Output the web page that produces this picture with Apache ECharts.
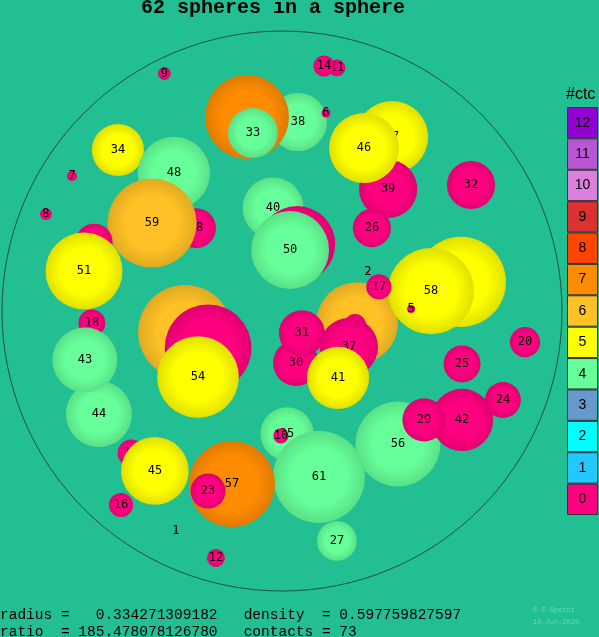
<!DOCTYPE html>
<html>
<head>
<meta charset="utf-8">
<script src="https://cdn.jsdelivr.net/npm/echarts@6/dist/echarts.min.js"></script>
<style>
html,body{margin:0;padding:0;background:#21bf91;}
#chart{width:599px;height:637px;}
</style>
</head>
<body>
<div id="chart"></div>
<script>
// ---- data (drawing order = back to front) ----
const labels = [38,55,33,6,47,39,46,11,14,9,34,48,28,59,22,51,7,8,40,49,50,32,26,60,53,58,17,2,5,15,30,31,37,41,62,52,54,18,44,43,20,25,56,42,24,29,35,10,61,19,45,57,23,16,1,12,27];
const xs = [0.057,-0.125,-0.104,0.157,0.393,0.379,0.293,0.196,0.150,-0.420,-0.586,-0.386,-0.307,-0.464,-0.671,-0.707,-0.750,-0.843,-0.032,0.054,0.029,0.675,0.321,0.639,0.268,0.532,0.346,0.307,0.461,0.261,0.050,0.071,0.239,0.200,-0.346,-0.264,-0.300,-0.679,-0.654,-0.704,0.868,0.643,0.414,0.643,0.789,0.507,0.018,-0.004,0.132,-0.539,-0.454,-0.179,-0.264,-0.575,-0.379,-0.236,0.196];
const ys = [0.675,0.693,0.636,0.707,0.621,0.436,0.582,0.868,0.875,0.848,0.575,0.493,0.296,0.314,0.246,0.143,0.482,0.346,0.368,0.239,0.218,0.450,0.296,0.104,-0.043,0.071,0.086,0.139,0.007,-0.050,-0.186,-0.079,-0.129,-0.239,-0.075,-0.132,-0.236,-0.043,-0.368,-0.175,-0.111,-0.189,-0.475,-0.389,-0.318,-0.389,-0.439,-0.446,-0.593,-0.507,-0.571,-0.618,-0.643,-0.693,-0.786,-0.882,-0.821];
const rs = [0.104,0.150,0.089,0.016,0.129,0.104,0.125,0.030,0.0375,0.023,0.093,0.129,0.071,0.159,0.066,0.1375,0.018,0.021,0.109,0.136,0.139,0.086,0.068,0.161,0.146,0.154,0.045,0.004,0.014,0.039,0.082,0.082,0.104,0.111,0.168,0.155,0.146,0.048,0.118,0.116,0.054,0.066,0.152,0.111,0.064,0.077,0.095,0.027,0.164,0.048,0.121,0.154,0.0625,0.043,0.004,0.032,0.071];
const ctcs = [4,7,4,0,5,0,5,0,0,0,5,4,0,6,0,5,0,0,4,0,4,0,0,5,6,5,0,0,0,0,0,0,0,5,6,0,5,0,4,4,0,0,4,0,0,0,4,0,4,0,5,7,0,0,0,0,4];

// legend
const ctcLevels = ['0','1','2','3','4','5','6','7','8','9','10','11','12'];
const ctcColors = ['#ff0080','#22c8ff','#00ffff','#6699cc','#66ff99','#ffff00','#ffc125','#ff8c00','#ff4500','#dd3030','#dd80dd','#ba55d3','#9400d3'];

const titleText = '62 spheres in a sphere';
const statLine1 = 'radius =   0.334271309182   density  = 0.597759827597';
const statLine2 = 'ratio  = 185.478078126780   contacts = 73';

function shade(hex, f){
  const n = parseInt(hex.slice(1),16);
  let r=(n>>16)&255, g=(n>>8)&255, b=n&255;
  r=Math.round(r*f); g=Math.round(g*f); b=Math.round(b*f);
  return 'rgb('+r+','+g+','+b+')';
}

const sphereData = labels.map((l,i)=>[xs[i],ys[i],rs[i],ctcs[i],l]);

const chart = echarts.init(document.getElementById('chart'), null, {renderer:'canvas'});
chart.setOption({
  animation:false,
  backgroundColor:'#21bf91',
  grid:[
    {left:2, top:31, width:560, height:560},
    {left:567, top:107, width:31, height:408}
  ],
  xAxis:[
    {type:'value', min:-1, max:1, show:false, gridIndex:0},
    {type:'value', min:0, max:1, show:false, gridIndex:1}
  ],
  yAxis:[
    {type:'value', min:-1, max:1, show:false, gridIndex:0},
    {type:'category', data:ctcLevels, show:false, gridIndex:1}
  ],
  graphic:[
    {type:'text', left:141, top:-2, style:{text:titleText, font:'bold 20px "Liberation Mono"', fill:'#000'}},
    {type:'text', left:566, top:87, style:{text:'#ctc', font:'16px "Liberation Sans"', fill:'#000'}},
    {type:'text', left:0, top:608, style:{text:statLine1, font:'14.5px "Liberation Mono"', fill:'#000'}},
    {type:'text', left:0, top:625, style:{text:statLine2, font:'14.5px "Liberation Mono"', fill:'#000'}},
    {type:'text', left:533, top:604, style:{text:'© E.Specht\n18-Jun-2020', font:'7px "Liberation Mono"', fill:'#6fd6b2', lineHeight:12}}
  ],
  series:[
    {
      type:'custom', coordinateSystem:'cartesian2d', xAxisIndex:0, yAxisIndex:0, z:1,
      data:[[0,0,1]],
      renderItem:function(params, api){
        const c = api.coord([api.value(0), api.value(1)]);
        const s = api.size([api.value(2), api.value(2)]);
        return {type:'circle', shape:{cx:c[0], cy:c[1], r:s[0]}, style:{fill:'none', stroke:'#1f4f40', lineWidth:1}};
      }
    },
    {
      type:'custom', coordinateSystem:'cartesian2d', xAxisIndex:0, yAxisIndex:0, z:2,
      data:sphereData,
      renderItem:function(params, api){
        const i = params.dataIndex;
        const c = api.coord([api.value(0), api.value(1)]);
        const s = api.size([api.value(2), api.value(2)]);
        const col = ctcColors[api.value(3)];
        const grad = new echarts.graphic.RadialGradient(0.5,0.5,0.5,[
          {offset:0, color:col},{offset:0.6, color:col},{offset:1, color:shade(col,0.88)}
        ]);
        return {type:'group', children:[
          {type:'circle', z2:i*2, shape:{cx:c[0], cy:c[1], r:Math.max(s[0],0.5)}, style:{fill:grad}},
          {type:'text', z2:i*2+1, style:{text:String(api.value(4)), x:c[0], y:c[1], align:'center', verticalAlign:'middle', font:'12px "DejaVu Sans Mono"', fill:'#000'}}
        ]};
      }
    },
    {
      type:'bar', xAxisIndex:1, yAxisIndex:1, barWidth:'100%', barCategoryGap:'0%',
      data:ctcLevels.map((l,i)=>({value:1, itemStyle:{color:ctcColors[i]}})),
      itemStyle:{borderColor:'#333', borderWidth:1},
      label:{show:true, position:'inside', formatter:function(p){return p.name;}, color:'#000', fontSize:14, fontFamily:'Liberation Sans'},
      silent:true
    }
  ]
});
</script>
</body>
</html>
